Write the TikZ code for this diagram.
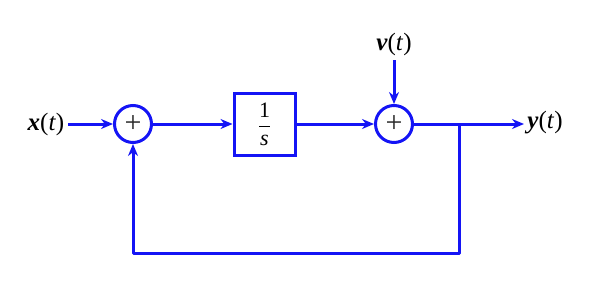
\documentclass[tikz,border=0pt]{standalone}
\usepackage{fontspec}
\setmainfont{Liberation Serif}
\usetikzlibrary{arrows.meta}
\definecolor{diagblue}{RGB}{20,20,245}
\definecolor{plusgray}{RGB}{40,40,40}
\begin{document}
\begin{tikzpicture}[x=1pt,y=-1pt,
  wire/.style={draw=diagblue,line width=3pt},
  arr/.style={wire,-{Stealth[length=12pt,width=10pt]}},
  sumnode/.style={circle,draw=diagblue,line width=3pt,minimum size=37pt,inner sep=0pt,text=plusgray,font=\fontsize{30}{30}\selectfont},
  blocknode/.style={rectangle,draw=diagblue,line width=3pt,minimum width=61pt,minimum height=62pt,inner sep=0pt,font=\fontsize{22}{26}\selectfont},
  lab/.style={font=\fontsize{25}{28}\selectfont,inner sep=1pt}]
\useasboundingbox (0,0) rectangle (591,295);
\node[lab] (x) at (46,124) {\textbf{\textit{x}}(\textit{t})};
\node[sumnode] (s1) at (133,124) {+};
\node[blocknode] (b) at (264.5,124) {$\displaystyle\frac{\hbox{1}}{\hbox{\itshape s}}$};
\node[sumnode] (s2) at (394,124) {+};
\node[lab] (v) at (394,44) {\textbf{\textit{v}}(\textit{t})};
\node[lab] (y) at (545,123) {\textbf{\textit{y}}(\textit{t})};
\coordinate (xs) at (68,124);
\coordinate (vs) at (394,60);
\coordinate (br) at (459,124);
\coordinate (c1) at (459,253);
\coordinate (c2) at (133,253);
\coordinate (ye) at (524,124);
\draw[arr] (xs) -- (s1.west);
\draw[arr] (s1.east) -- (b.west);
\draw[arr] (b.east) -- (s2.west);
\draw[arr] (vs) -- (s2.north);
\draw[arr] (s2.east) -- (ye);
\draw[arr,line join=round] (br) -- (c1) -- (c2) -- (s1.south);
\end{tikzpicture}
\end{document}
